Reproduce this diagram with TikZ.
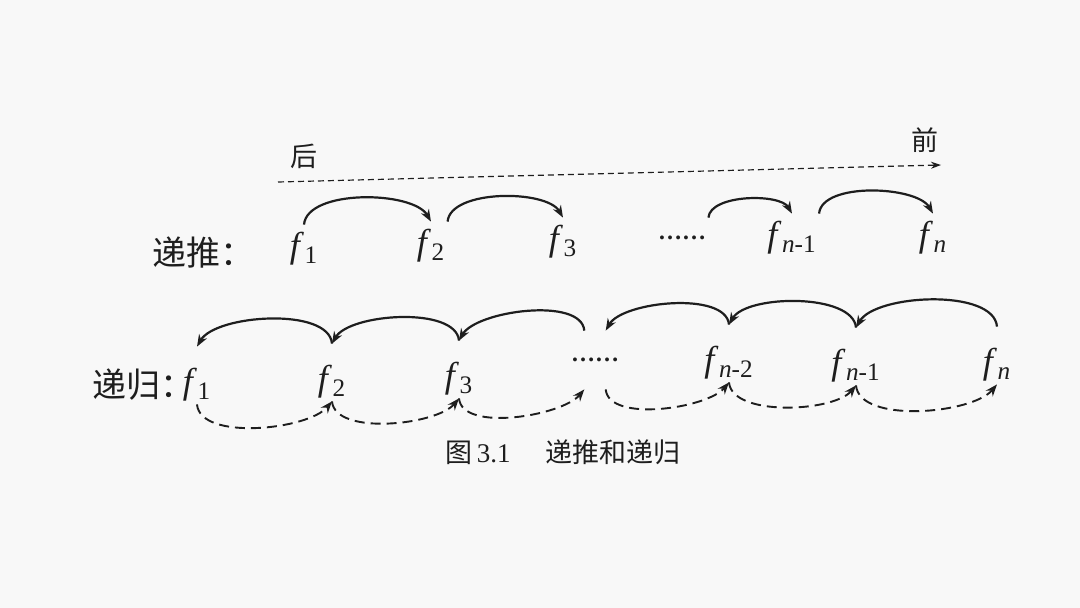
\documentclass[tikz,border=0pt]{standalone}
\usepackage{fontspec}
\setmainfont{Liberation Serif}
\newfontfamily\cjk{Noto Sans CJK SC}
\usepackage{tikz}
\usetikzlibrary{arrows.meta}
\definecolor{ink}{HTML}{1E1E1E}
\definecolor{paper}{HTML}{F8F8F8}
\newcommand{\fv}[1]{\textit{f}\kern0.3pt\textsubscript{#1}}
\tikzset{
  term/.style={anchor=base, inner sep=1pt, font=\fontsize{18}{21}\selectfont, text=ink},
  termup/.style={term, text height=15.5pt, text depth=3pt},
  termdown/.style={term, text height=22.5pt, text depth=4pt},
  rowlabel/.style={anchor=west, inner sep=1pt, font=\cjk\fontsize{17}{20}\selectfont, text=ink},
  hint/.style={inner sep=1pt, font=\cjk\fontsize{13.5}{16}\selectfont, text=ink},
  ellip/.style={inner sep=1pt, font=\bfseries\fontsize{12}{14}\selectfont, text=ink},
  caption/.style={inner sep=1pt, font=\fontsize{13.5}{16}\selectfont, text=ink},
  fwd/.style={-{Stealth[length=6pt,width=4.5pt]}, line width=1.1pt, draw=ink,
    out=85, in=120, looseness=0.72},
  back/.style={-{Stealth[length=6pt,width=4.5pt]}, line width=1.1pt, draw=ink,
    out=95, in=60, looseness=0.7},
  retn/.style={-{Stealth[length=6pt,width=4.5pt]}, line width=0.95pt, draw=ink,
    dash pattern=on 5pt off 3pt, out=-85, in=-130, looseness=0.7},
  dirline/.style={-{Stealth[length=5pt,width=3.5pt]}, line width=0.6pt, draw=ink,
    dash pattern=on 3pt off 2pt},
}

\begin{document}
\begin{tikzpicture}[x=0.5pt, y=0.5pt]
  \path[use as bounding box, fill=paper] (0,0) rectangle (1080,-608);

  % Direction
  \coordinate (dl) at (278,-182);
  \coordinate (dr) at (941,-165);
  \node[hint] (hou) at (304,-156) {后};
  \node[hint] (qian) at (925,-140) {前};
  \draw[dirline] (dl) -- (dr);

  % Top row
  \node[rowlabel] (labA) at (150,-253) {递推：};
  \node[termup] (t1) at (304,-258) {\fv{1}};
  \node[termup] (t2) at (431,-255) {\fv{2}};
  \node[termup] (t3) at (563,-251) {\fv{3}};
  \node[ellip, minimum height=20pt] (tdots) at (682,-238) {……};
  \node[termup] (t4) at (792,-247) {\fv{\textit{n}-1}};
  \node[termup] (t5) at (933,-247) {\fv{\textit{n}}};

  % Bottom row
  \node[rowlabel] (labB) at (90,-385) {递归：};
  \node[termdown] (b1) at (197,-394) {\fv{1}};
  \node[termdown] (b2) at (332,-391) {\fv{2}};
  \node[termdown] (b3) at (459,-388) {\fv{3}};
  \node[ellip, minimum height=29pt] (bdots) at (595,-360) {……};
  \node[termdown] (b4) at (729,-372) {\fv{\textit{n}-2}};
  \node[termdown] (b5) at (856,-375) {\fv{\textit{n}-1}};
  \node[termdown] (b6) at (997,-374) {\fv{\textit{n}}};

  \node[caption] (cap) at (563,-452) {{\cjk 图}\,3.1\hspace{1.3em}{\cjk 递推和递归}};

  % Connections
  \draw[fwd] (t1.north) to (t2.north);
  \draw[fwd] (t2.north east) to (t3.north);
  \draw[fwd] (tdots.north east) to (t4.north);
  \draw[fwd] (t4.north east) to (t5.north);

  \draw[back] (b2.north) to (b1.north);
  \draw[back] (b3.north) to (b2.north);
  \draw[back] (bdots.110) to (b3.north);
  \draw[back] (b4.north) to (bdots.70);
  \draw[back] (b5.north) to (b4.north);
  \draw[back] (b6.north) to (b5.north);

  \draw[retn] (b1.south) to (b2.south);
  \draw[retn] (b2.south) to (b3.south);
  \draw[retn] (b3.south) to (bdots.-110);
  \draw[retn] (bdots.-70) to (b4.south);
  \draw[retn] (b4.south) to (b5.south);
  \draw[retn] (b5.south) to (b6.south);
\end{tikzpicture}
\end{document}
